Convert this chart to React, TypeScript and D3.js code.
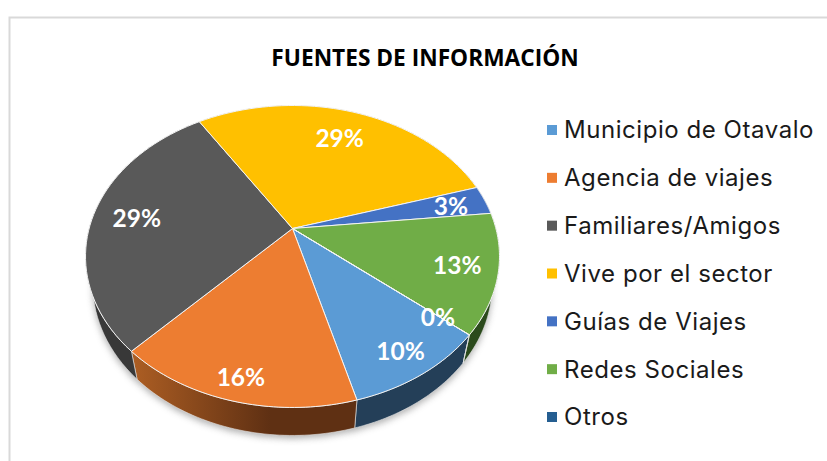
import React from "react";
import * as d3 from "d3";

const categories = ["Municipio de Otavalo", "Agencia de viajes", "Familiares/Amigos", "Vive por el sector", "Guías de Viajes", "Redes Sociales", "Otros"];
const values = [9.7, 16.2, 29.1, 29.1, 3.1, 12.8, 0];
const labels = ["10%", "16%", "29%", "29%", "3%", "13%", "0%"];
const topColors = ["#5b9bd5", "#ed7d31", "#595959", "#ffc000", "#4472c4", "#70ad47", "#255e91"];
const wallColors = ["#243f58", "#5f3013", "#383838", "#6b5000", "#283f6e", "#2b4a1c", "#16385a"];
const labelRadius = [0.856, 0.878, 0.78, 0.753, 0.82, 0.81, 0.84];

const W = 827, H = 461;
const CX = 292.5, CY = 228.5, DEPTH = 28, K = 0.1853, A = 203.4, C = 145.8, BOTTOM_X = 0.965;

const project = (a: number, r: number): [number, number] => {
  const u = r * Math.sin(a), v = r * Math.cos(a), w = 1 + K * v;
  return [CX + (A * u) / w, CY - (C * v) / w];
};
const bottom = ([x, y]: [number, number]): [number, number] => [CX + (x - CX) * BOTTOM_X, y + DEPTH];
const line = d3.line();

const pie = d3.pie<number>().sort(null).startAngle((130 * Math.PI) / 180).endAngle((490 * Math.PI) / 180);
const arcs = pie(values);
const arcPoints = (s: number, e: number) => d3.range(0, 49).map((i) => project(s + ((e - s) * i) / 48, 1));

export default function App() {
  const legendY = d3.scalePoint<string>().domain(categories).range([130, 417]);
  const full = arcPoints(0, Math.PI * 2);
  return (
    <svg width={W} height={H} style={{ position: "fixed", left: 0, top: 0, background: "#fff" }}>
      <defs>
        <filter id="shadow" x="-20%" y="-20%" width="140%" height="140%">
          <feGaussianBlur stdDeviation="3.5" />
        </filter>
        <linearGradient id="orangeWall" gradientUnits="userSpaceOnUse" x1="135" x2="270" y1="0" y2="0">
          <stop offset="0" stopColor="#ab5d23" />
          <stop offset="1" stopColor="#5f3013" />
        </linearGradient>
      </defs>
      <rect x={9.5} y={17.5} width={830} height={460} fill="#fff" stroke="#d9d9d9" strokeWidth={2} />
      <path d={line(full.map(bottom).map(([x, y]) => [x, y + 3] as [number, number])) + "Z"} fill="#8a8a8a" opacity={0.7} filter="url(#shadow)" />
      {arcs.map((d, i) => {
        const pts = arcPoints(d.startAngle, d.endAngle);
        return (
          <path key={i} d={line([...pts, ...pts.map(bottom).reverse()]) + "Z"}
            fill={i === 1 ? "url(#orangeWall)" : wallColors[i]} stroke="#e8e8e8" strokeWidth={0.6} />
        );
      })}
      {arcs.map((d, i) => (
        <path key={i} d={line([[CX, CY], ...arcPoints(d.startAngle, d.endAngle)]) + "Z"}
          fill={topColors[i]} stroke="#f4f4f4" strokeWidth={1} strokeLinejoin="round" />
      ))}
      <text x={425} y={66} textAnchor="middle" fontFamily="'Open Sans'" fontWeight={700} fontSize={22.7} fill="#000">
        FUENTES DE INFORMACIÓN
      </text>
      {arcs.map((d, i) => {
        const [x, y] = project((d.startAngle + d.endAngle) / 2, labelRadius[i]);
        return (
          <text key={i} x={x} y={y + 1} dy="0.35em" textAnchor="middle" fontFamily="Lato" fontWeight={700} fontSize={24.5} fill="#fff">
            {labels[i]}
          </text>
        );
      })}
      {categories.map((c, i) => (
        <g key={c} transform={`translate(0,${legendY(c)})`}>
          <rect x={547} y={-5} width={10} height={10} fill={topColors[i]} />
          <text x={564} dy="0.35em" fontFamily="Inter" fontSize={24} fill="#1a1a1a" letterSpacing={0.55}>{c}</text>
        </g>
      ))}
    </svg>
  );
}
